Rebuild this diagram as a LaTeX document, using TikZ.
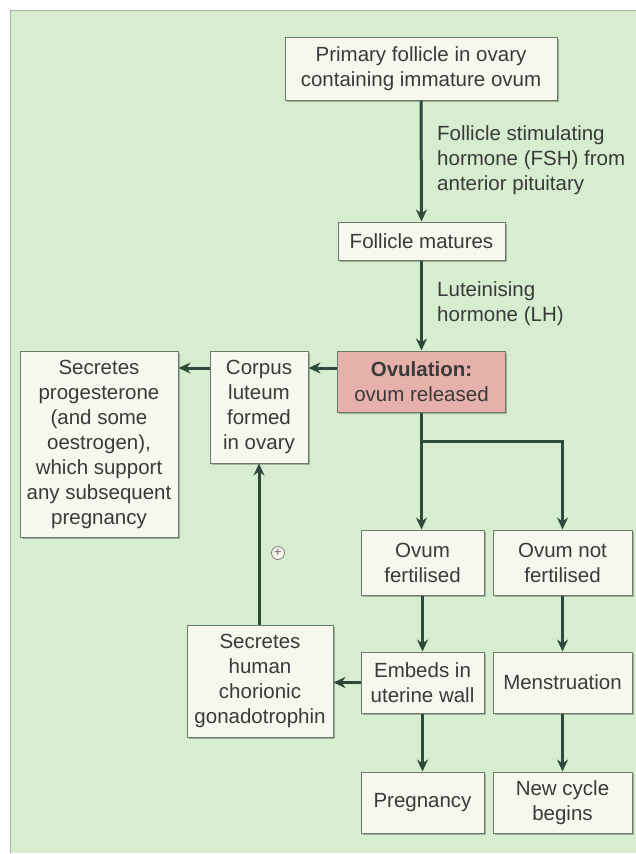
\documentclass[tikz,border=0pt]{standalone}
\usepackage{fontspec}
\setmainfont{Liberation Sans}
\usetikzlibrary{arrows.meta,shadows}
\definecolor{panel}{HTML}{D6EDD0}
\definecolor{panelline}{HTML}{A9B5A6}
\definecolor{boxfill}{HTML}{F6F8EE}
\definecolor{boxline}{HTML}{6B7A6B}
\definecolor{pinkfill}{HTML}{E6B0AB}
\definecolor{arrowc}{HTML}{2E4A3C}
\definecolor{txt}{HTML}{3A3A3A}
\begin{document}
\begin{tikzpicture}[x=1pt,y=-1pt,
  box/.style={draw=boxline,line width=1pt,fill=boxfill,inner sep=0pt,align=center,text=txt,
    font=\fontsize{20.5}{25}\selectfont,
    drop shadow={shadow xshift=1.5pt,shadow yshift=-1.5pt,opacity=0.25,fill=black}},
  arr/.style={draw=arrowc,line width=3pt,-{Stealth[length=12pt,width=11pt]}},
  lbl/.style={align=left,anchor=west,text=txt,inner sep=0pt,font=\fontsize{20.5}{25}\selectfont}]
\useasboundingbox (0,0) rectangle (636,854);
\fill[white] (0,0) rectangle (636,854);
\fill[panel] (10,10) rectangle (636,853);
\draw[panelline,line width=1pt] (10,853) -- (10,10) -- (636,10);

% boxes
\node[box,minimum width=272,minimum height=63] (prim) at (421,68.5) {Primary follicle in ovary\\containing immature ovum};
\node[box,minimum width=167,minimum height=38] (mat) at (421.5,241) {Follicle matures};
\node[box,fill=pinkfill,minimum width=168,minimum height=61] (ovul) at (421.5,381.5) {\textbf{Ovulation:}\\ovum released};
\node[box,minimum width=98,minimum height=112] (corp) at (259,407) {Corpus\\luteum\\formed\\in ovary};
\node[box,minimum width=158,minimum height=186] (prog) at (99,444) {Secretes\\progesterone\\(and some\\oestrogen),\\which support\\any subsequent\\pregnancy};
\node[box,minimum width=123,minimum height=65] (fert) at (422.5,562.5) {Ovum\\fertilised};
\node[box,minimum width=139,minimum height=65] (notf) at (562.5,562.5) {Ovum not\\fertilised};
\node[box,minimum width=146,minimum height=112] (hcg) at (260,681) {Secretes\\human\\chorionic\\gonadotrophin};
\node[box,minimum width=123,minimum height=61] (embed) at (422.5,682.5) {Embeds in\\uterine wall};
\node[box,minimum width=139,minimum height=61] (mens) at (562.5,682.5) {Menstruation};
\node[box,minimum width=123,minimum height=61] (preg) at (422.5,802.5) {Pregnancy};
\node[box,minimum width=139,minimum height=61] (newc) at (562.5,802.5) {New cycle\\begins};

% labels
\node[lbl] (fsh) at (437,160) {Follicle stimulating\\hormone (FSH) from\\anterior pituitary};
\node[lbl] (lh) at (437,304) {Luteinising\\hormone (LH)};
\node[circle,draw=gray,line width=0.8pt,fill=boxfill,minimum size=13pt,inner sep=0pt,text=gray!80!black,font=\fontsize{13}{13}\selectfont] (plus) at (278,553) {+};

% connectors
\coordinate (br) at (ovul.south |- 0,441);
\draw[arr] (prim.south) -- (mat.north);
\draw[arr] (mat.south) -- (ovul.north);
\draw[arr] (ovul.west |- 0,368) -- (corp.east |- 0,368);
\draw[arr] (corp.west |- 0,368) -- (prog.east |- 0,368);
\draw[arr] (ovul.south) -- (ovul.south |- fert.north);
\draw[arr] (br) -| (notf.north);
\draw[arr] (fert.south) -- (fert.south |- embed.north);
\draw[arr] (notf.south) -- (mens.north);
\draw[arr] (embed.south) -- (preg.north);
\draw[arr] (mens.south) -- (newc.north);
\draw[arr] (embed.west) -- (hcg.east |- embed.west);
\draw[arr] (hcg.north -| corp.south) -- (corp.south);
\end{tikzpicture}
\end{document}
